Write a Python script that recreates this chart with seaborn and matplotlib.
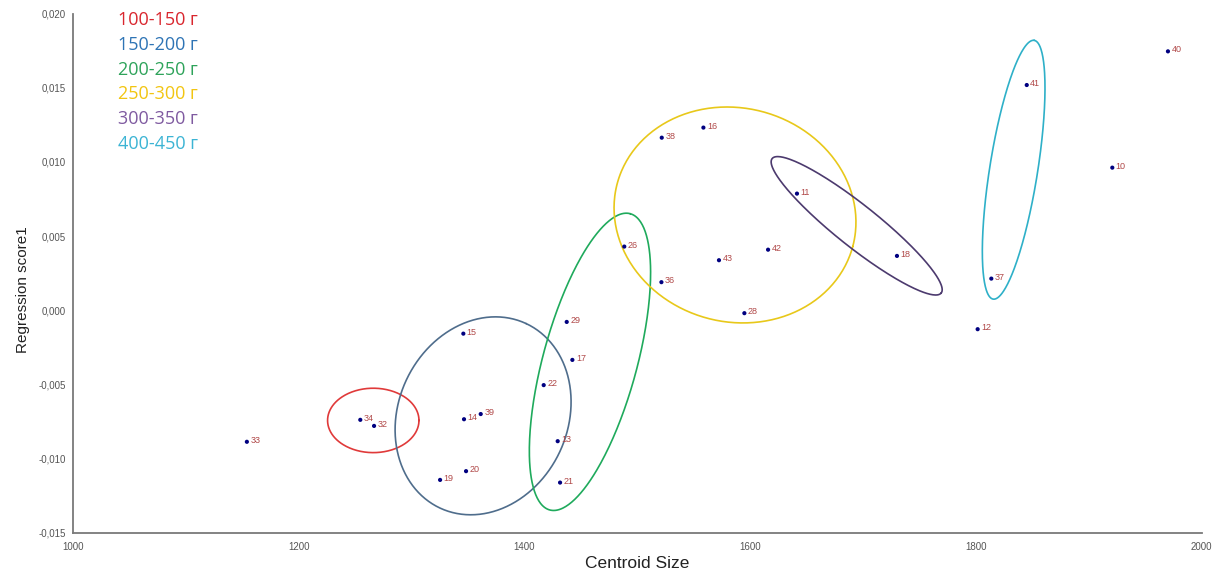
import numpy as np
import pandas as pd
import matplotlib
matplotlib.use("Agg")
import matplotlib.pyplot as plt
from matplotlib.ticker import FuncFormatter, MultipleLocator
import seaborn as sns

# Specimen numbers, centroid size and regression score
specimen = ["33", "34", "32", "15", "14", "39", "19", "20", "29", "17", "22", "13", "21",
            "38", "16", "26", "43", "42", "36", "28", "11", "18", "41", "40", "10", "37", "12"]
centroid_size = [1154.0, 1254.5, 1266.7, 1345.8, 1346.4, 1361.2, 1325.2, 1348.2, 1437.4,
                 1442.4, 1417.0, 1429.4, 1431.5, 1521.6, 1558.5, 1488.4, 1572.3, 1615.8,
                 1521.3, 1594.8, 1641.4, 1730.0, 1845.0, 1970.1, 1920.8, 1813.6, 1801.5]
regression_score = [-0.00887, -0.00739, -0.00780, -0.00158, -0.00735, -0.00700, -0.01144,
                    -0.01085, -0.00079, -0.00335, -0.00505, -0.00883, -0.01162, 0.01163,
                    0.01231, 0.00429, 0.00337, 0.00408, 0.00189, -0.00020, 0.00786,
                    0.00366, 0.01518, 0.01745, 0.00961, 0.00213, -0.00128]

# Weight groups and the ellipses outlining them
group_labels = ["100-150 г", "150-200 г", "200-250 г", "250-300 г", "300-350 г", "400-450 г"]
group_text_colors = ["#d9262e", "#2e74b5", "#2ea35a", "#f2c511", "#7f5aa0", "#3cb4d4"]
group_line_colors = ["#e03a3a", "#4f6d8c", "#1faa5c", "#e8c81a", "#4c3a6e", "#2eb0c8"]
ellipse_center_x = [1266.0, 1363.3, 1458.0, 1586.5, 1694.3, 1833.4]
ellipse_center_y = [-0.00743, -0.00712, -0.00348, 0.00642, 0.00569, 0.00947]
ellipse_major_px = [45.7, 101.8, 153.5, 121.9, 108.0, 131.0]
ellipse_minor_px = [32.2, 84.7, 47.0, 106.9, 21.0, 24.0]
ellipse_angle_deg = [0.0, 65.0, 74.8, -15.0, -38.5, 81.0]

df = pd.DataFrame({"id": specimen, "cs": centroid_size, "score": regression_score})

sns.set_style("white")
plt.rcParams["font.family"] = ["Liberation Sans", "DejaVu Sans"]

fig = plt.figure(figsize=(12.32, 5.73), dpi=100)
ax = fig.add_axes([0.0593, 0.0703, 0.9161, 0.9061])
ax.set_xlim(1000, 2000)
ax.set_ylim(-0.015, 0.020)

sns.scatterplot(data=df, x="cs", y="score", ax=ax, color="#000080", s=9,
                edgecolor="none", zorder=4, legend=False)
for sid, x, y in zip(df["id"], df["cs"], df["score"]):
    ax.annotate(sid, (x, y), xytext=(2.5, 1.0), textcoords="offset points",
                fontsize=6.5, color="#b04848", ha="left", va="center", zorder=5)

# Group ellipses: drawn in screen space, mapped back to data coordinates
scale = fig.dpi / 100.0
t = np.linspace(0, 2 * np.pi, 361)
for cx, cy, a, b, ang, col in zip(ellipse_center_x, ellipse_center_y, ellipse_major_px,
                                  ellipse_minor_px, ellipse_angle_deg, group_line_colors):
    px, py = ax.transData.transform((cx, cy))
    th = np.deg2rad(ang)
    ex = px + scale * (a * np.cos(t) * np.cos(th) - b * np.sin(t) * np.sin(th))
    ey = py + scale * (a * np.cos(t) * np.sin(th) + b * np.sin(t) * np.cos(th))
    pts = ax.transData.inverted().transform(np.column_stack([ex, ey]))
    ax.plot(pts[:, 0], pts[:, 1], color=col, lw=1.2, zorder=3)

# Group captions in the upper left corner
for i, (lab, col) in enumerate(zip(group_labels, group_text_colors)):
    fig.text(118 / 1232, 1 - (20 + 24.8 * i) / 573, lab, color=col, fontsize=13,
             family=["Open Sans", "DejaVu Sans"], ha="left", va="center")

ax.xaxis.set_major_locator(MultipleLocator(200))
ax.yaxis.set_major_locator(MultipleLocator(0.005))
ax.xaxis.set_major_formatter(FuncFormatter(lambda v, p: f"{v:.0f}"))
ax.yaxis.set_major_formatter(FuncFormatter(lambda v, p: f"{v:.3f}".replace(".", ",").replace("-0,000", "0,000")))

for side in ["top", "right"]:
    ax.spines[side].set_visible(False)
for side in ["left", "bottom"]:
    ax.spines[side].set_color("#7a7a7a")
    ax.spines[side].set_linewidth(1.3)
ax.tick_params(axis="both", direction="out", length=3, width=1, color="#7a7a7a",
               labelsize=7, labelcolor="#555555", pad=2)
ax.tick_params(axis="x", pad=4)

ax.set_xlabel("Centroid Size", fontsize=12.5, color="#222222")
ax.set_ylabel("")
ax.xaxis.set_label_coords(0.5, -0.045)
fig.text(23 / 1232, 1 - 290 / 573, "Regression score1", rotation=90, fontsize=11,
         color="#222222", ha="center", va="center")

fig.savefig("out.png", dpi=100)
